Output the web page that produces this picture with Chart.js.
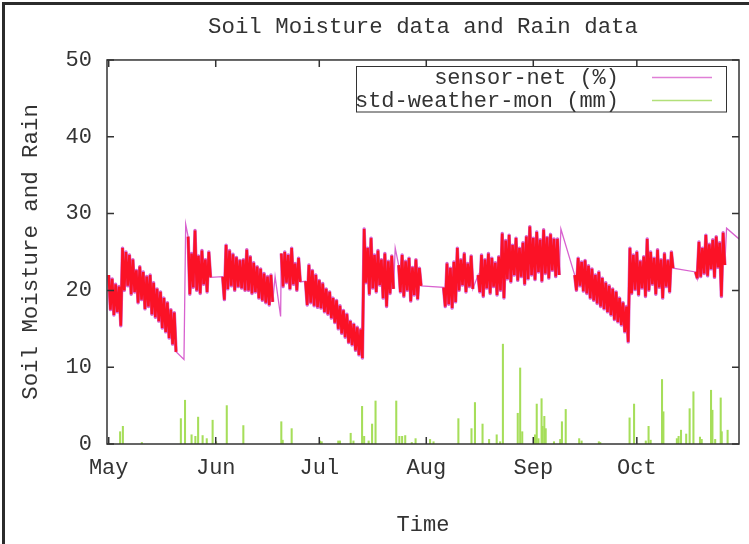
<!DOCTYPE html>
<html><head><meta charset="utf-8">
<script src="https://cdn.jsdelivr.net/npm/chart.js@4.4.1/dist/chart.umd.min.js"></script>
<style>html,body{margin:0;padding:0;background:#fff;}canvas{display:block}</style>
</head><body>
<canvas id="c" width="749" height="544"></canvas>
<script>
const titleText = 'Soil Moisture data and Rain data';
const xTitle = 'Time';
const yTitle = 'Soil Moisture and Rain';
const monthDays = [0, 31, 61, 92, 123, 153];
const monthLabels = ['May', 'Jun', 'Jul', 'Aug', 'Sep', 'Oct'];
const yTicks = [0, 10, 20, 30, 40, 50];

// soil moisture: daily high / low (days since 1 May)
const moistDay = [
  0,1,2,3,
  4,5,6,7,8,9,10,11,12,13,14,15,16,17,18,19,
  23,24,25,26,27,28,29,
  33,34,35,36,37,38,39,40,41,42,43,44,45,46,47,
  50,51,52,53,54,55,
  57,58,59,60,61,62,63,64,65,66,67,68,69,70,71,72,73,
  74,75,76,77,78,79,80,81,82,
  84,85,86,87,88,89,90,
  97,98,99,100,101,102,103,104,105,
  107,108,109,110,111,112,113,114,
  115,116,117,118,119,120,121,
  122,123,124,125,126,127,128,129,130,
  135,136,137,138,139,140,141,142,143,144,145,146,147,148,149,150,
  151,152,153,154,155,156,157,158,159,160,161,162,163,
  170,171,172,173,174,175,176,177,178
];
const moistHigh = [
  22.0,21.5,20.8,20.5,
  25.5,25.0,24.6,24.0,22.6,23.1,22.4,21.8,22.0,21.0,20.2,19.8,19.0,18.4,17.5,17.1,
  27.0,24.8,27.8,24.5,25.2,24.0,25.0,
  21.8,25.9,25.2,24.7,24.3,23.9,24.0,25.3,24.4,23.6,23.1,22.8,22.2,21.8,22.0,
  24.8,25.0,24.6,25.5,23.5,24.2,
  21.2,23.3,22.6,22.0,21.3,20.9,20.2,19.8,19.0,18.7,18.0,17.4,16.9,16.0,15.6,15.2,14.9,
  28.0,25.5,26.8,24.6,25.2,24.0,24.8,23.8,24.5,
  23.3,24.6,23.8,24.2,23.0,24.0,22.9,
  20.4,23.5,22.9,23.7,25.5,24.0,24.8,23.5,24.5,
  22.0,24.6,24.0,24.8,24.2,23.6,24.4,27.4,
  26.5,27.2,25.9,26.8,25.5,26.2,27.0,
  28.3,26.8,27.6,26.6,27.9,26.9,27.3,26.7,26.7,
  22.0,24.2,23.7,23.9,23.2,22.8,22.0,22.4,21.6,21.0,20.6,20.2,19.8,19.0,18.4,17.9,
  25.5,24.6,25.0,23.8,24.4,26.7,25.0,24.2,25.3,24.0,24.8,23.9,25.0,
  22.4,26.3,25.5,27.2,26.0,26.6,27.0,26.2,27.5
];
const moistLow = [
  17.5,16.8,17.2,15.4,
  20.0,20.6,19.5,19.8,18.4,18.8,17.6,17.9,16.9,16.5,16.0,15.1,14.6,13.8,13.0,12.0,
  19.5,20.4,20.0,19.6,20.8,19.8,21.7,
  18.8,20.2,20.6,20.0,20.5,20.3,20.0,20.0,19.6,19.8,19.0,18.7,18.4,18.1,18.5,
  20.5,21.0,20.2,20.8,20.0,21.1,
  18.1,18.4,18.0,17.8,17.7,17.2,16.9,16.4,15.8,15.0,14.4,13.9,13.2,12.9,12.2,11.6,11.2,
  21.0,19.5,20.3,19.8,20.7,19.0,17.9,19.6,20.2,
  19.8,19.2,20.0,18.6,19.4,18.9,20.6,
  17.9,18.2,17.7,18.5,20.0,20.7,19.8,20.5,20.2,
  19.8,19.2,20.3,19.6,20.5,19.4,20.0,19.0,
  21.5,21.1,22.0,21.3,21.8,20.8,21.5,
  22.0,21.4,22.4,21.2,22.2,21.6,22.6,21.8,22.0,
  20.0,20.6,19.9,19.6,19.0,18.7,18.3,17.9,17.6,17.2,16.8,16.2,15.9,15.5,14.6,13.3,
  19.6,20.1,19.4,20.3,19.2,20.0,20.8,19.5,20.4,19.0,20.5,19.8,22.9,
  21.6,21.8,22.2,21.9,22.8,21.7,23.0,19.2,23.3
];
// isolated sensor-net readings between the dense runs
const spikeDay = [21.8, 22.3, 48.2, 49.8, 83.0, 131.0, 179.0, 182.6];
const spikeVal = [11.0, 28.6, 21.8, 16.6, 25.5, 28.0, 28.1, 26.7];

// rain (mm)
const rainDay = [3.3,4.1,9.6,20.9,22.1,24.0,25.1,25.9,27.2,28.4,30.1,31.1,34.2,39.0,50.0,50.4,53.0,61.2,61.7,66.5,67.0,70.1,70.9,73.4,74.0,75.3,76.3,77.3,83.3,84.2,85.0,85.9,87.8,88.9,93.1,94.1,101.3,105.1,106.1,108.3,110.2,112.4,113.4,114.2,118.5,119.2,119.8,123.5,124.0,124.5,125.4,125.7,126.2,126.6,129.0,130.8,131.3,132.4,136.3,137.0,142.0,142.4,150.9,152.2,155.6,156.4,157.0,160.3,160.7,164.6,165.1,165.8,167.3,168.3,169.4,171.3,171.8,174.5,174.9,175.7,177.3,177.6,179.3];
const rainVal = [1.6,2.3,0.2,3.3,5.7,1.2,1.0,3.5,1.1,0.7,3.1,0.3,5.0,2.4,2.9,0.5,2.0,0.4,0.3,0.4,0.4,1.4,0.4,4.9,1.0,0.4,2.6,5.6,5.6,1.0,1.0,1.1,0.2,0.7,0.6,0.3,3.3,2.0,5.4,2.6,0.6,1.2,0.3,13.0,4.0,9.9,1.6,1.2,5.2,0.7,5.9,2.3,3.6,2.0,0.3,0.6,2.9,4.5,0.7,0.4,0.3,0.2,3.4,5.2,0.4,2.3,0.5,8.4,4.2,0.7,1.0,1.8,1.3,4.6,6.8,0.9,0.6,7.0,4.4,0.6,6.0,1.6,1.8];

// build point tables
const redPts = [];
const pinkPts = [];
moistDay.forEach((d, i) => {
  if (i > 0 && d - moistDay[i - 1] > 1.5) redPts.push({x: d - 0.75, y: null});
  const a = {x: d, y: moistHigh[i]}, b = {x: d + 0.5, y: moistLow[i]};
  redPts.push(a, b); pinkPts.push(a, b);
});
spikeDay.forEach((d, i) => pinkPts.push({x: d, y: spikeVal[i]}));
pinkPts.sort((p, q) => p.x - q.x);
const rainPts = rainDay.map((d, i) => ({x: d, y: rainVal[i]}));

const FONT = 'Liberation Mono';
const TXT = '#333333';
const PINK = '#d862cf';
const RED = '#fb1226';
const GREEN = '#a6de5a';

const framePlugin = {
  id: 'framePlugin',
  beforeDraw(chart) {
    const ctx = chart.ctx;
    ctx.save();
    ctx.fillStyle = '#fff';
    ctx.fillRect(0, 0, chart.width, chart.height);
    ctx.strokeStyle = '#2b2b2b';
    ctx.lineWidth = 3;
    ctx.beginPath();
    ctx.moveTo(3.5, chart.height); ctx.lineTo(3.5, 3.5); ctx.lineTo(chart.width, 3.5);
    ctx.stroke();
    ctx.restore();
  },
  afterDatasetsDraw(chart) {
    const {ctx, chartArea: a, scales: {x, y}} = chart;
    ctx.save();
    ctx.strokeStyle = '#333';
    ctx.lineWidth = 1.5;
    ctx.strokeRect(a.left, a.top, a.right - a.left, a.bottom - a.top);
    ctx.beginPath();
    yTicks.forEach(v => {
      const py = y.getPixelForValue(v);
      ctx.moveTo(a.left, py); ctx.lineTo(a.left + 7, py);
      ctx.moveTo(a.right, py); ctx.lineTo(a.right - 7, py);
    });
    monthDays.forEach(v => {
      const px = x.getPixelForValue(v);
      ctx.moveTo(px, a.bottom); ctx.lineTo(px, a.bottom - 7);
      ctx.moveTo(px, a.top); ctx.lineTo(px, a.top + 7);
    });
    ctx.stroke();
    // legend (gnuplot style: right-aligned text, sample line on the right)
    const items = chart.data.datasets.filter(ds => ds.label);
    ctx.lineWidth = 1;
    ctx.strokeRect(356.5, 66.5, 370, 45.5);
    ctx.font = '22px "' + FONT + '"';
    ctx.textAlign = 'right';
    ctx.textBaseline = 'middle';
    items.forEach((ds, i) => {
      const yy = 78.5 + i * 23;
      ctx.fillStyle = TXT;
      ctx.fillText(ds.label, 619, yy);
      ctx.strokeStyle = ds.legendColor;
      ctx.lineWidth = 1.4;
      ctx.beginPath(); ctx.moveTo(652, yy - 1); ctx.lineTo(712, yy - 1); ctx.stroke();
    });
    ctx.restore();
  }
};

new Chart(document.getElementById('c'), {
  type: 'line',
  data: {
    datasets: [
      {label: '', data: redPts, borderColor: RED, borderWidth: 2.5, pointRadius: 0, spanGaps: false, order: 0, borderJoinStyle: 'bevel'},
      {label: '', data: redPts, borderColor: PINK, borderWidth: 3.4, pointRadius: 0, spanGaps: false, order: 1, borderJoinStyle: 'round'},
      {label: 'sensor-net (%)', legendColor: '#e07fd6', data: pinkPts, borderColor: PINK, borderWidth: 1.3, pointRadius: 0, order: 2, borderJoinStyle: 'miter'},
      {type: 'bar', label: 'std-weather-mon (mm)', legendColor: '#b2e07a', data: rainPts, backgroundColor: GREEN, borderWidth: 0, barThickness: 1.4, order: 3}
    ]
  },
  options: {
    responsive: false,
    animation: false,
    devicePixelRatio: 1,
    layout: {padding: {left: 0, right: 10, top: 0, bottom: 0}},
    plugins: {
      legend: {display: false},
      tooltip: {enabled: false},
      title: {display: true, fullSize: false, text: titleText, color: TXT,
        font: {family: FONT, size: 22.4, weight: 'normal', lineHeight: 1.2},
        padding: {top: 14.1, bottom: 19.0}}
    },
    scales: {
      x: {
        type: 'linear', min: -0.5, max: 182.6, offset: false,
        grid: {display: false, drawTicks: false},
        border: {display: false},
        afterFit: s => { s.height = 100; },
        afterBuildTicks: s => { s.ticks = monthDays.map(v => ({value: v})); },
        ticks: {color: TXT, padding: 11, autoSkip: false, maxRotation: 0,
          font: {family: FONT, size: 22},
          callback: v => { const i = monthDays.indexOf(v); return i >= 0 ? monthLabels[i] : ''; }},
        title: {display: true, text: xTitle, color: TXT, font: {family: FONT, size: 22}, padding: {top: 0, bottom: 5.8}}
      },
      y: {
        min: 0, max: 50,
        grid: {display: false, drawTicks: false},
        border: {display: false},
        afterFit: s => { s.width = 107; },
        afterBuildTicks: s => { s.ticks = yTicks.map(v => ({value: v})); },
        ticks: {color: TXT, padding: 15, font: {family: FONT, size: 22}},
        title: {display: true, text: yTitle, color: TXT, font: {family: FONT, size: 22.4}, padding: {top: 17.8, bottom: 0}}
      }
    }
  },
  plugins: [framePlugin]
});
</script>
</body></html>
